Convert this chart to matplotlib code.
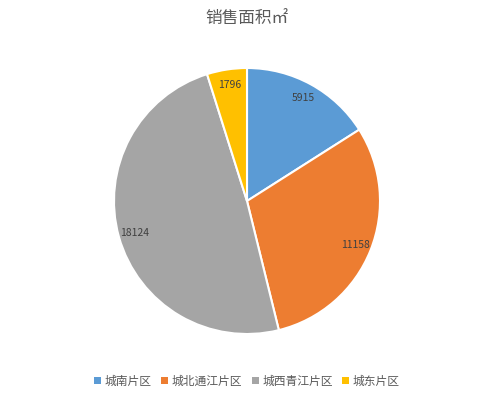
import matplotlib
matplotlib.use("Agg")
import matplotlib.pyplot as plt
from matplotlib.patches import Patch

plt.rcParams['font.family'] = ['Noto Sans CJK SC', 'DejaVu Sans']

categories = ['城南片区', '城北通江片区', '城西青江片区', '城东片区']
values = [5915, 11158, 18124, 1796]
colors = ['#5B9BD5', '#ED7D31', '#A5A5A5', '#FFC000']
title = '销售面积㎡'

fig = plt.figure(figsize=(4.94, 3.99), dpi=100)
cx, cy, r = 247, 201, 133
ax = fig.add_axes([(cx - r) / 494, (399 - cy - r) / 399, 2 * r / 494, 2 * r / 399])

wedges, texts, autotexts = ax.pie(
    values, colors=colors, startangle=90, counterclock=False,
    autopct=lambda p: '{:.0f}'.format(p * sum(values) / 100),
    pctdistance=0.88, radius=1.0,
    wedgeprops=dict(edgecolor='white', linewidth=1.5),
    textprops=dict(fontsize=7.5, color='#404040'))
ax.set_xlim(-1, 1)
ax.set_ylim(-1, 1)
ax.set_aspect('equal')

fig.text(0.5, 1 - 19 / 399, title, ha='center', va='center', fontsize=12, color='#595959')

handles = [Patch(facecolor=c, edgecolor='none') for c in colors]
fig.legend(handles, categories, loc='center', bbox_to_anchor=(0.5, 1 - 381 / 399),
           ncol=4, frameon=False, fontsize=8.5, handlelength=0.6, handleheight=0.6,
           handletextpad=0.3, columnspacing=0.8, labelcolor='#595959')

fig.savefig('out.png', dpi=100)
